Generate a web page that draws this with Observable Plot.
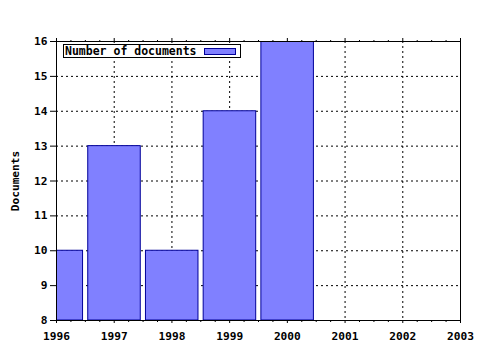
<!DOCTYPE html>
<html><head><meta charset="utf-8">
<script src="https://cdn.jsdelivr.net/npm/d3@7"></script>
<script src="https://cdn.jsdelivr.net/npm/@observablehq/plot@0.6"></script>
<style>
body{margin:0;background:#fff;}
#wrap{position:relative;width:480px;height:350px;overflow:hidden;}
#legend{position:absolute;left:63px;top:44px;width:176px;height:12px;border:1px solid #000;background:#fff;
  font:bold 11.5px "DejaVu Sans Mono",monospace;line-height:12px;color:#000;white-space:nowrap;}
#legend span.t{position:absolute;left:1px;top:0;}
#legend span.s{position:absolute;left:140px;top:3px;width:30px;height:5px;background:#8080ff;border:1px solid #000099;}
</style>
</head><body>
<div id="wrap"><div id="legend"><span class="t"></span><span class="s"></span></div></div>
<script>
const years = [1996, 1997, 1998, 1999, 2000];
const documents = [10, 13, 10, 14, 16];
const xTicks = [1996, 1997, 1998, 1999, 2000, 2001, 2002, 2003];
const yTicks = [8, 9, 10, 11, 12, 13, 14, 15, 16];
const seriesName = "Number of documents";
const yLabel = "Documents";

const data = years.map((y, i) => ({year: y, value: documents[i]}));
const minorX = d3.range(1996, 2003, 0.25).filter(v => !Number.isInteger(v));
const blank = () => "";

const chart = Plot.plot({
  width: 480, height: 350,
  marginLeft: 56, marginRight: 20, marginTop: 41, marginBottom: 30,
  style: {fontFamily: "'DejaVu Sans Mono', monospace", fontWeight: "bold", fontSize: "11.2px", background: "#fff", color: "#000"},
  x: {domain: [1996, 2003]},
  y: {domain: [8, 16]},
  marks: [
    Plot.gridX(xTicks, {stroke: "#000", strokeOpacity: 1, strokeDasharray: "2,3"}),
    Plot.gridY(yTicks, {stroke: "#000", strokeOpacity: 1, strokeDasharray: "2,3"}),
    Plot.rect(data, {x1: d => d.year - 0.45, x2: d => d.year + 0.46, y1: 8, y2: "value",
      fill: "#8080ff", stroke: "#000099", strokeWidth: 1, clip: true}),
    Plot.frame({stroke: "#000"}),
    Plot.axisX(xTicks, {anchor: "bottom", tickSize: 3, tickPadding: 9, label: null, tickFormat: d => String(d)}),
    Plot.axisX(minorX, {anchor: "bottom", tickSize: 2, label: null, tickFormat: blank}),
    Plot.axisX(xTicks, {anchor: "top", tickSize: 4, label: null, tickFormat: blank}),
    Plot.axisX(minorX, {anchor: "top", tickSize: 2, label: null, tickFormat: blank}),
    Plot.axisY(yTicks, {anchor: "left", tickSize: 6, tickPadding: 3, label: yLabel, labelAnchor: "center", labelArrow: "none", labelOffset: 45})
  ]
});
document.getElementById("wrap").prepend(chart);
document.querySelector("#legend .t").textContent = seriesName;
</script>
</body></html>
